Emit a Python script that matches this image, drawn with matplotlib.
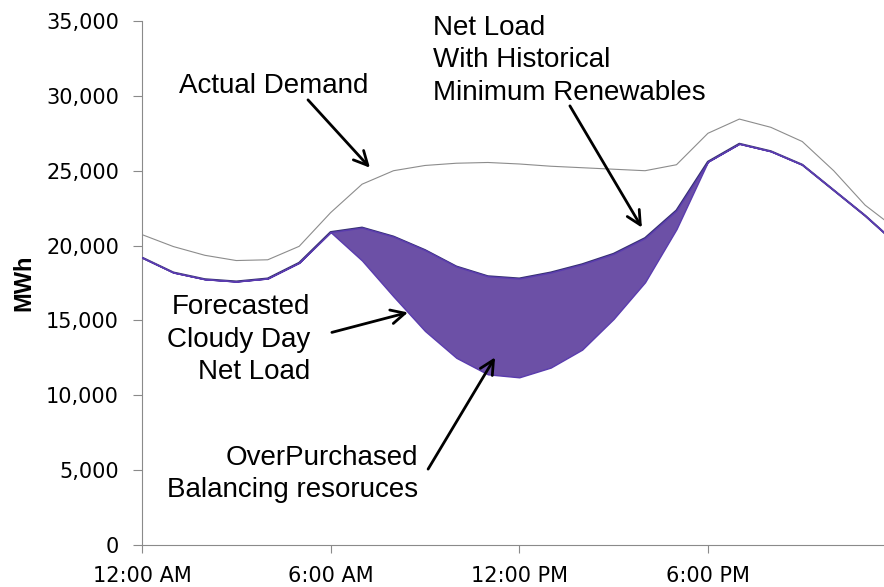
import matplotlib
matplotlib.use('Agg')
import matplotlib.pyplot as plt
from matplotlib.ticker import FuncFormatter

# hours of the day (last point is the right edge of the visible chart)
hours = [0, 1, 2, 3, 4, 5, 6, 7, 8, 9, 10, 11, 12, 13, 14, 15, 16, 17, 18,
         19, 20, 21, 22, 23, 23.6]

actualDemand = [20733, 19933, 19350, 19000, 19050, 19950, 22200, 24100,
                25000, 25350, 25500, 25550, 25450, 25300, 25200, 25100,
                25000, 25400, 27500, 28450, 27900, 26950, 25000, 22700,
                21733]

# net load with historical minimum renewables
netLoadHist = [19200, 18200, 17750, 17600, 17800, 18850, 20900, 21200,
               20600, 19700, 18600, 17950, 17800, 18200, 18750, 19450,
               20500, 22350, 25600, 26800, 26300, 25400, 23700, 22000,
               20867]

# forecasted cloudy day net load
netLoadCloudy = [19200, 18200, 17750, 17600, 17800, 18850, 20900, 19000,
                 16600, 14300, 12500, 11400, 11200, 11850, 13050, 15100,
                 17550, 21100, 25600, 26800, 26300, 25400, 23700, 22000,
                 20867]

xTicks = [0, 6, 12, 18]
xTickLabels = ['12:00 AM', '6:00 AM', '12:00 PM', '6:00 PM']
yTicks = [0, 5000, 10000, 15000, 20000, 25000, 30000, 35000]


def main():
    fig = plt.figure(figsize=(8.84, 5.87), dpi=100)
    ax = fig.add_axes([0.1606, 0.0716, 1 - 0.1606, 0.8926])

    ax.plot(hours, actualDemand, color='#8c8c8c', lw=0.8, zorder=2)
    ax.plot(hours, netLoadHist, color='#35316f', lw=1.5, zorder=2)
    ax.fill_between(hours, netLoadCloudy, netLoadHist, facecolor='#6c50a6',
                    edgecolor='#5a3cae', lw=1.0, zorder=3)

    ax.set_xlim(0, 23.6)
    ax.set_ylim(0, 35000)
    ax.set_xticks(xTicks)
    ax.set_xticklabels(xTickLabels)
    ax.set_yticks(yTicks)
    ax.yaxis.set_major_formatter(FuncFormatter(lambda v, p: '{:,.0f}'.format(v)))

    for s in ['top', 'right']:
        ax.spines[s].set_visible(False)
    for s in ['left', 'bottom']:
        ax.spines[s].set_color('#8a8a8a')
        ax.spines[s].set_linewidth(0.8)
    ax.tick_params(axis='both', colors='#8a8a8a', width=0.8, labelcolor='black',
                   labelsize=15)
    ax.tick_params(axis='y', length=6.5, pad=10)
    ax.tick_params(axis='x', length=6, pad=9)

    ax.set_ylabel('MWh', fontsize=17, fontweight='bold', family='Liberation Sans',
                  labelpad=8)

    txt = dict(fontsize=20, family='Liberation Sans', color='black',
               linespacing=1.32, va='baseline', zorder=5)
    arrow = dict(arrowstyle='->', color='black', lw=2, mutation_scale=25,
                 shrinkA=0, shrinkB=0)

    ax.text(4.18, 30200, 'Actual Demand', ha='center', **txt)
    ax.annotate('', xy=(7.25, 25200), xytext=(5.28, 29733), arrowprops=arrow)

    ax.text(9.26, 29733, 'Net Load\nWith Historical\nMinimum Renewables',
            ha='left', multialignment='left', **txt)
    ax.annotate('', xy=(15.9, 21200), xytext=(13.61, 29333), arrowprops=arrow)

    ax.text(5.34, 11067, 'Forecasted\nCloudy Day\nNet Load',
            ha='right', multialignment='right', **txt)
    ax.annotate('', xy=(8.46, 15533), xytext=(6.04, 14200), arrowprops=arrow)

    ax.text(8.78, 3200, 'OverPurchased\nBalancing resoruces',
            ha='right', multialignment='right', **txt)
    ax.annotate('', xy=(11.23, 12533), xytext=(9.1, 5067), arrowprops=arrow)

    fig.savefig('out.png', dpi=100)


if __name__ == '__main__':
    main()
